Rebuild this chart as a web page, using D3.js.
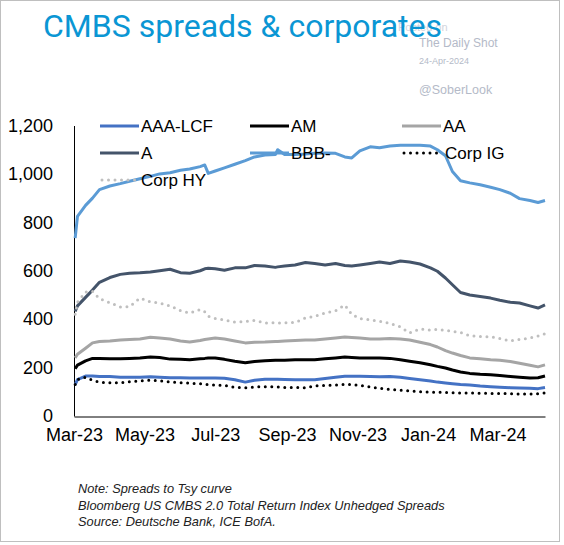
<!DOCTYPE html>
<html><head><meta charset="utf-8">
<script src="https://cdn.jsdelivr.net/npm/d3@7"></script>
<style>
html,body{margin:0;padding:0;background:#fff;}
svg{display:block;}
</style></head>
<body>
<svg id="chart" width="564" height="545"></svg>
<script>
const dates = ["2023-03-02","2023-03-04","2023-03-11","2023-03-17","2023-03-23","2023-04-01","2023-04-10","2023-04-18","2023-04-27","2023-05-06",
"2023-05-14","2023-05-23","2023-06-01","2023-06-09","2023-06-18","2023-06-22","2023-06-25","2023-07-01","2023-07-09","2023-07-18",
"2023-07-27","2023-08-04","2023-08-13","2023-08-22","2023-08-24","2023-08-30","2023-09-08","2023-09-17","2023-09-25","2023-10-04",
"2023-10-13","2023-10-21","2023-10-27","2023-11-03","2023-11-12","2023-11-20","2023-11-29","2023-12-08","2023-12-16","2023-12-25",
"2024-01-03","2024-01-09","2024-01-16","2024-01-22","2024-01-29","2024-02-06","2024-02-15","2024-02-24","2024-03-03","2024-03-12",
"2024-03-20","2024-03-29","2024-04-05","2024-04-11"];

const aaaLcf = [130,150,165,165,163,163,160,160,160,162, 160,158,158,157,157,157,157,157,156,150, 140,148,152,152,152,151,150,150,150,155, 160,164,164,164,163,162,163,160,155,150, 145,140,136,133,130,128,124,121,119,117, 116,115,113,118];
const am = [195,210,228,238,238,236,236,238,240,244, 242,235,234,232,236,238,240,240,234,226, 220,225,228,230,230,230,232,232,232,236, 240,244,242,240,240,240,238,232,226,220, 212,205,198,190,182,176,172,170,167,163, 160,157,158,165];
const aa = [240,255,280,302,308,310,314,316,318,325, 322,318,310,306,312,316,318,322,318,310, 302,305,306,308,308,310,312,314,314,318, 322,326,324,322,318,318,320,318,314,305, 295,285,270,260,250,240,236,232,230,225, 218,210,203,211];
const aRating = [432,455,490,520,552,572,585,590,592,595, 600,606,592,590,600,608,610,608,602,612, 612,622,620,614,616,620,624,634,630,624, 630,622,620,624,630,636,630,640,636,628, 612,598,570,542,510,500,494,487,478,470, 467,455,446,459];
const bbbMinus = [735,825,870,900,935,950,960,970,980,990, 1000,1005,1015,1020,1030,1037,1002,1012,1025,1040, 1055,1070,1078,1080,1100,1080,1080,1082,1085,1086, 1085,1070,1066,1095,1112,1108,1115,1118,1118,1118, 1115,1100,1075,1010,972,963,955,945,935,920, 898,890,882,890];
const corpIG = [130,150,160,148,140,137,137,142,145,148, 146,140,138,136,133,130,130,128,126,118, 117,120,121,120,120,118,118,116,124,126, 128,130,130,126,120,114,110,107,104,100, 99,98,97,96,95,95,94,93,93,92, 91,91,92,95];
const corpHY = [420,470,512,515,485,468,450,452,487,471, 467,455,435,425,440,430,412,403,397,388, 390,395,384,385,384,385,386,405,412,425, 435,458,420,402,397,392,382,368,343,360, 355,358,354,350,345,332,328,327,320,310, 316,322,330,340];

const yTicks = [0,200,400,600,800,1000,1200];
const xTickDates = ["2023-03-01","2023-05-01","2023-07-01","2023-09-01","2023-11-01","2024-01-01","2024-03-01"];

const seriesNames = ["AAA-LCF","AM","AA","A","BBB-","Corp IG","Corp HY"];
const seriesValues = [aaaLcf, am, aa, aRating, bbbMinus, corpIG, corpHY];
const seriesColors = ["#4472C4","#000000","#A5A5A5","#44546A","#5B9BD5","#000000","#BFBFBF"];
const seriesDotted = [false,false,false,false,false,true,true];

const parse = d3.utcParse("%Y-%m-%d");
const svg = d3.select("#chart");
const FONT = "'Liberation Sans', Arial, sans-serif";

svg.append("rect").attr("x",0.5).attr("y",0.5).attr("width",559).attr("height",541)
  .attr("fill","#fff").attr("stroke","#BFBFBF").attr("stroke-width",1);

const x = d3.scaleUtc().domain([parse("2023-03-01"), parse("2024-04-11")]).range([74, 545]);
const y = d3.scaleLinear().domain([0,1200]).range([416, 125.5]);

// watermark
svg.append("text").attr("x",398).attr("y",31).text("Posted on")
  .attr("font-family",FONT).attr("font-size",11).attr("fill","#D0D4DC");
svg.append("text").attr("x",419).attr("y",47).text("The Daily Shot")
  .attr("font-family",FONT).attr("font-size",12).attr("fill","#B4BAC8");
svg.append("text").attr("x",419).attr("y",64).text("24-Apr-2024")
  .attr("font-family",FONT).attr("font-size",9).attr("fill","#B4BAC8");
svg.append("text").attr("x",419).attr("y",94).text("@SoberLook")
  .attr("font-family",FONT).attr("font-size",12.5).attr("fill","#B4BAC8");

// title
svg.append("text").attr("x",43).attr("y",37).text("CMBS spreads & corporates")
  .attr("font-family","Roboto, 'Noto Sans', sans-serif").attr("font-size",32).attr("fill","#0A96D4");

// axes
const yAxis = d3.axisLeft(y).tickValues(yTicks).tickSize(0).tickPadding(21).tickFormat(d3.format(","));
const gy = svg.append("g").attr("transform","translate(74,0)").call(yAxis);
gy.select(".domain").attr("stroke","#000").attr("stroke-width",1);
gy.selectAll("text").attr("font-family",FONT).attr("font-size",18).attr("fill","#000");

const xAxis = d3.axisBottom(x).tickValues(xTickDates.map(parse)).tickSize(0).tickPadding(12)
  .tickFormat(d3.utcFormat("%b-%y"));
const gx = svg.append("g").attr("transform","translate(0,416.5)").call(xAxis);
gx.select(".domain").attr("stroke","#000").attr("stroke-width",1);
gx.selectAll("text").attr("font-family",FONT).attr("font-size",18).attr("fill","#000");

// lines
const line = d3.line().x(d => x(d.date)).y(d => y(d.value));
seriesNames.forEach((name, i) => {
  const data = dates.map((d, j) => ({date: parse(d), value: seriesValues[i][j]}));
  const p = svg.append("path").datum(data).attr("d", line)
    .attr("fill","none").attr("stroke", seriesColors[i]).attr("stroke-width",3)
    .attr("stroke-linejoin","round");
  if (seriesDotted[i]) p.attr("stroke-dasharray","0,6.5").attr("stroke-linecap","round");
});

// legend
const legendPos = [[100,126],[250,126],[402,126],[100,153],[250,153],[402,153],[100,180]];
seriesNames.forEach((name, i) => {
  const [lx, ly] = legendPos[i];
  const l = svg.append("line").attr("x1",lx).attr("x2",lx+39).attr("y1",ly).attr("y2",ly)
    .attr("stroke", seriesColors[i]).attr("stroke-width",3);
  if (seriesDotted[i]) l.attr("stroke-dasharray","0,6.5").attr("stroke-linecap","round").attr("x1",lx+2);
  svg.append("text").attr("x", lx + (seriesDotted[i] && i===5 ? 43 : 41)).attr("y", ly).attr("dy","0.35em")
    .text(name).attr("font-family",FONT).attr("font-size",17).attr("fill","#000");
});

// notes
const notes = ["Note: Spreads to Tsy curve","Bloomberg US CMBS 2.0 Total Return Index Unhedged Spreads","Source: Deutsche Bank, ICE BofA."];
notes.forEach((t, i) => {
  svg.append("text").attr("x",78).attr("y",493 + i*16.5).text(t)
    .attr("font-family",FONT).attr("font-style","italic").attr("font-size",12.8).attr("fill","#222");
});
</script>
</body></html>
